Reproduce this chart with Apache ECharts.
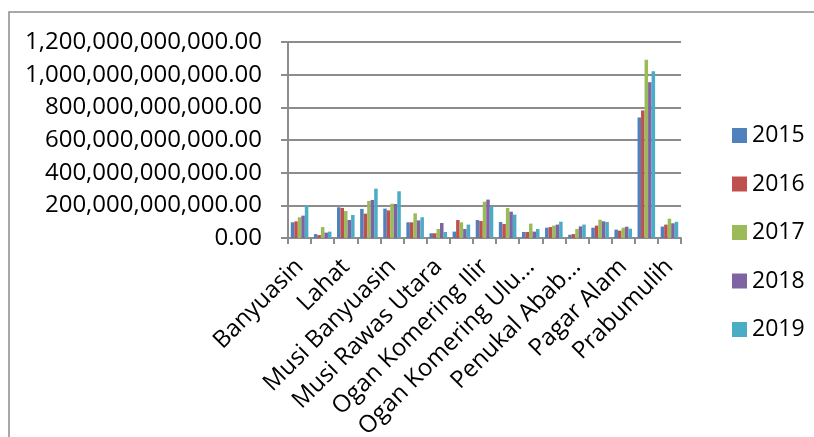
<!DOCTYPE html>
<html>
<head>
<meta charset="utf-8">
<script src="https://cdn.jsdelivr.net/npm/echarts@6/dist/echarts.min.js"></script>
<style>
  html, body { margin: 0; padding: 0; background: #fff; }
  #main { width: 814px; height: 437px; }
</style>
</head>
<body>
<div id="main"></div>
<script>
// data (rupiah)
var categories = ['Banyuasin', 'Empat Lawang', 'Lahat', 'Muara Enim', 'Musi Banyuasin',
  'Musi Rawas', 'Musi Rawas Utara', 'Ogan Ilir', 'Ogan Komering Ilir', 'Ogan Komering Ulu',
  'Ogan Komering Ulu Selatan', 'Ogan Komering Ulu Timur', 'Penukal Abab Lematang Ilir',
  'Lubuk Linggau', 'Pagar Alam', 'Palembang', 'Prabumulih'];
// labels as Excel cut them
var shortLabels = {
  'Ogan Komering Ulu Selatan': 'Ogan Komering Ulu...',
  'Penukal Abab Lematang Ilir': 'Penukal Abab...'
};
var years = ['2015', '2016', '2017', '2018', '2019'];
var B = 1e9;
var v2015 = [96, 24, 188, 178, 180, 96, 29, 39, 110, 98, 37, 63, 20, 63, 51, 738, 70];
var v2016 = [102, 18, 184, 149, 169, 96, 29, 110, 104, 86, 37, 67, 24, 76, 45, 781, 82];
var v2017 = [127, 67, 165, 227, 210, 151, 55, 96, 222, 184, 88, 76, 55, 112, 63, 1092, 118];
var v2018 = [137, 33, 110, 233, 208, 108, 92, 55, 235, 161, 39, 82, 71, 102, 69, 954, 90];
var v2019 = [200, 39, 141, 302, 286, 127, 37, 82, 194, 143, 55, 100, 82, 98, 57, 1021, 99];
var yearValues = [v2015, v2016, v2017, v2018, v2019];
var colors = ['#4F81BD', '#C0504D', '#9BBB59', '#8064A2', '#4BACC6'];

function fmtMoney(v) {
  var s = Math.round(v).toString().replace(/\B(?=(\d{3})+(?!\d))/g, ',');
  return s + '.00';
}

var myChart = echarts.init(document.getElementById('main'));

var series = years.map(function (y, i) {
  return {
    name: y,
    type: 'bar',
    barGap: '0%',
    barCategoryGap: '24%',
    itemStyle: { color: colors[i] },
    data: yearValues[i].map(function (d) { return d * B; })
  };
});

var font = 'Open Sans';

var option = {
  animation: false,
  textStyle: { fontFamily: font },
  graphic: [{
    type: 'rect',
    shape: { x: 9, y: 12, width: 900, height: 500 },
    style: { fill: null, stroke: '#8c8c8c', lineWidth: 1.5 }
  }],
  legend: {
    orient: 'vertical',
    left: 727,
    top: 119,
    itemWidth: 15,
    itemHeight: 15,
    itemGap: 25.5,
    icon: 'rect',
    data: years,
    textStyle: { fontSize: 23, color: '#000', fontFamily: font }
  },
  grid: { left: 288, right: 133, top: 42, bottom: 199, outerBoundsMode: 'none' },
  xAxis: {
    type: 'category',
    data: categories,
    axisLine: { lineStyle: { color: '#8c8c8c', width: 2 } },
    axisTick: { show: true, interval: 0, length: 6, lineStyle: { color: '#8c8c8c', width: 2 } },
    axisLabel: {
      interval: 1,
      rotate: 45,
      margin: 25,
      fontSize: 24,
      color: '#000',
      fontFamily: font,
      formatter: function (v) { return shortLabels[v] || v; }
    }
  },
  yAxis: {
    type: 'value',
    min: 0,
    max: 1.2e12,
    interval: 2e11,
    axisLine: { show: true, lineStyle: { color: '#8c8c8c', width: 2 } },
    axisTick: { show: true, inside: false, length: 7, lineStyle: { color: '#8c8c8c', width: 2 } },
    splitLine: { lineStyle: { color: '#8c8c8c', width: 2 } },
    axisLabel: {
      margin: 26,
      fontSize: 24,
      color: '#000',
      fontFamily: font,
      formatter: fmtMoney
    }
  },
  series: series
};

myChart.setOption(option);
</script>
</body>
</html>
